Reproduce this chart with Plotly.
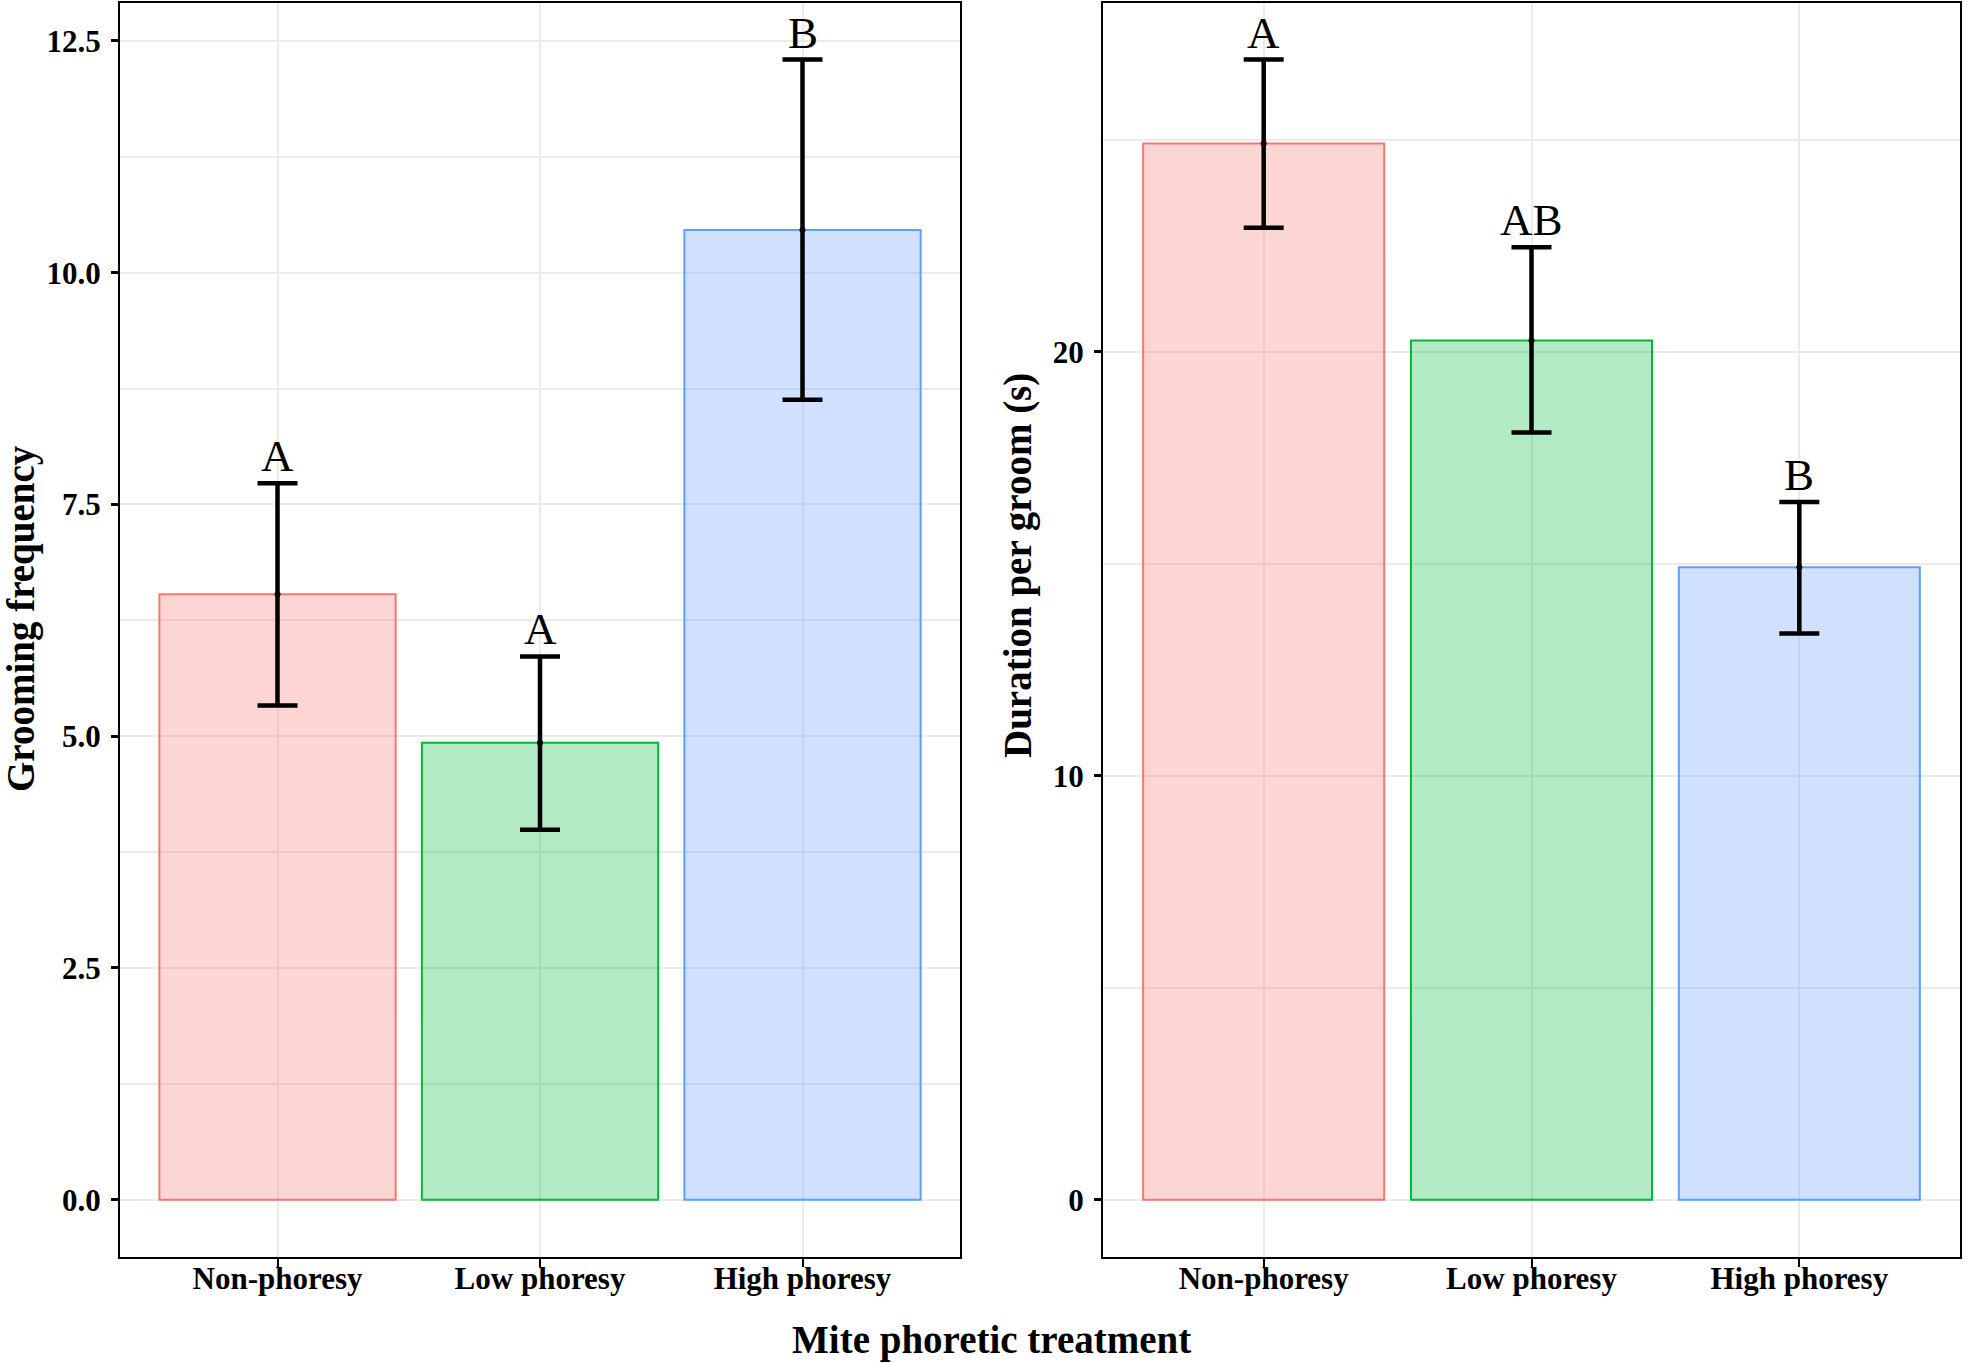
import plotly.graph_objects as go

# ---------------- data ----------------
categories = ["Non-phoresy", "Low phoresy", "High phoresy"]

freq_mean = [6.53, 4.93, 10.46]
freq_lower = [5.33, 3.99, 8.63]
freq_upper = [7.73, 5.86, 12.30]
freq_letters = ["A", "A", "B"]

dur_mean = [24.92, 20.27, 14.92]
dur_lower = [22.93, 18.10, 13.36]
dur_upper = [26.90, 22.47, 16.46]
dur_letters = ["A", "AB", "B"]

fill_colors = ["rgba(248,118,109,0.3)", "rgba(0,186,56,0.3)", "rgba(97,156,255,0.3)"]
line_colors = ["#F8766D", "#00BA38", "#619CFF"]

y_title_left = "Grooming frequency"
y_title_right = "Duration per groom (s)"
x_title = "Mite phoretic treatment"

FONT = "Liberation Serif, Times New Roman, serif"
W, H = 1968, 1363


def px(xp):
    return xp / W


def py(yp):
    return 1 - yp / H


fig = go.Figure()


def add_panel(mean, lower, upper, letters, xa, ya):
    fig.add_trace(go.Bar(
        x=categories, y=mean, width=0.9,
        marker=dict(color=fill_colors, line=dict(color=line_colors, width=2)),
        error_y=dict(type="data", symmetric=False,
                     array=[u - m for u, m in zip(upper, mean)],
                     arrayminus=[m - l for m, l in zip(mean, lower)],
                     color="black", thickness=4.5, width=20),
        xaxis=xa, yaxis=ya, showlegend=False, hoverinfo="skip",
    ))
    fig.add_trace(go.Scatter(
        x=categories, y=mean, mode="markers",
        marker=dict(color="black", size=6),
        xaxis=xa, yaxis=ya, showlegend=False, hoverinfo="skip",
    ))
    for c, u, t in zip(categories, upper, letters):
        fig.add_annotation(x=c, y=u, xref=xa, yref=ya, text=t, showarrow=False,
                           yanchor="bottom", xanchor="center", yshift=0,
                           font=dict(family=FONT, size=45, color="black"))


add_panel(freq_mean, freq_lower, freq_upper, freq_letters, "x", "y")
add_panel(dur_mean, dur_lower, dur_upper, dur_letters, "x2", "y2")

m1 = max(freq_upper)
m2 = max(dur_upper)

tickfont = dict(family=FONT, size=31, color="black", weight="bold")
common_x = dict(type="category", range=[-0.6, 2.6], showline=True, mirror=True,
                linecolor="black", linewidth=2, ticks="outside", ticklen=8,
                tickwidth=2, tickcolor="black", showgrid=True, gridcolor="#EBEBEB",
                gridwidth=2, tickfont=tickfont, zeroline=False, ticklabelstandoff=-15)
common_y = dict(showline=True, mirror=True, linecolor="black", linewidth=2,
                ticks="outside", ticklen=7, tickwidth=2.5, tickcolor="black",
                showgrid=True, gridcolor="#EBEBEB", gridwidth=2, zeroline=False,
                tickfont=tickfont, ticklabelstandoff=4)

ydom = [py(1256.7), py(2.5)]
fig.update_layout(
    width=W, height=H, paper_bgcolor="white", plot_bgcolor="white",
    margin=dict(l=0, r=0, t=0, b=0),
    xaxis=dict(domain=[px(120), px(960)], anchor="y", **common_x),
    yaxis=dict(domain=ydom, anchor="x", range=[-0.05 * m1, 1.05 * m1],
               tick0=0, dtick=2.5, tickformat=".1f",
               minor=dict(dtick=1.25, tick0=0, showgrid=True, gridcolor="#EBEBEB", gridwidth=1.5),
               **common_y),
    xaxis2=dict(domain=[px(1103), px(1960)], anchor="y2", **common_x),
    yaxis2=dict(domain=ydom, anchor="x2", range=[-0.05 * m2, 1.05 * m2],
                tick0=0, dtick=10,
                minor=dict(dtick=5, tick0=0, showgrid=True, gridcolor="#EBEBEB", gridwidth=1.5),
                **common_y),
    bargap=0.1,
)

title_font = dict(family=FONT, size=39, color="black", weight="bold")
fig.add_annotation(text=y_title_left, xref="paper", yref="paper",
                   x=px(21), y=py(619), textangle=-90, showarrow=False,
                   xanchor="center", yanchor="middle", font=title_font)
fig.add_annotation(text=y_title_right, xref="paper", yref="paper",
                   x=px(1018), y=py(566), textangle=-90, showarrow=False,
                   xanchor="center", yanchor="middle", font=title_font)
fig.add_annotation(text=x_title, xref="paper", yref="paper",
                   x=px(991), y=py(1340), showarrow=False,
                   xanchor="center", yanchor="middle", font=title_font)

# remove the default 8px page margin so the figure sits at the window origin
fig.write_html("out.html", config={"displayModeBar": False},
               post_script="document.body.style.margin='0px';")
